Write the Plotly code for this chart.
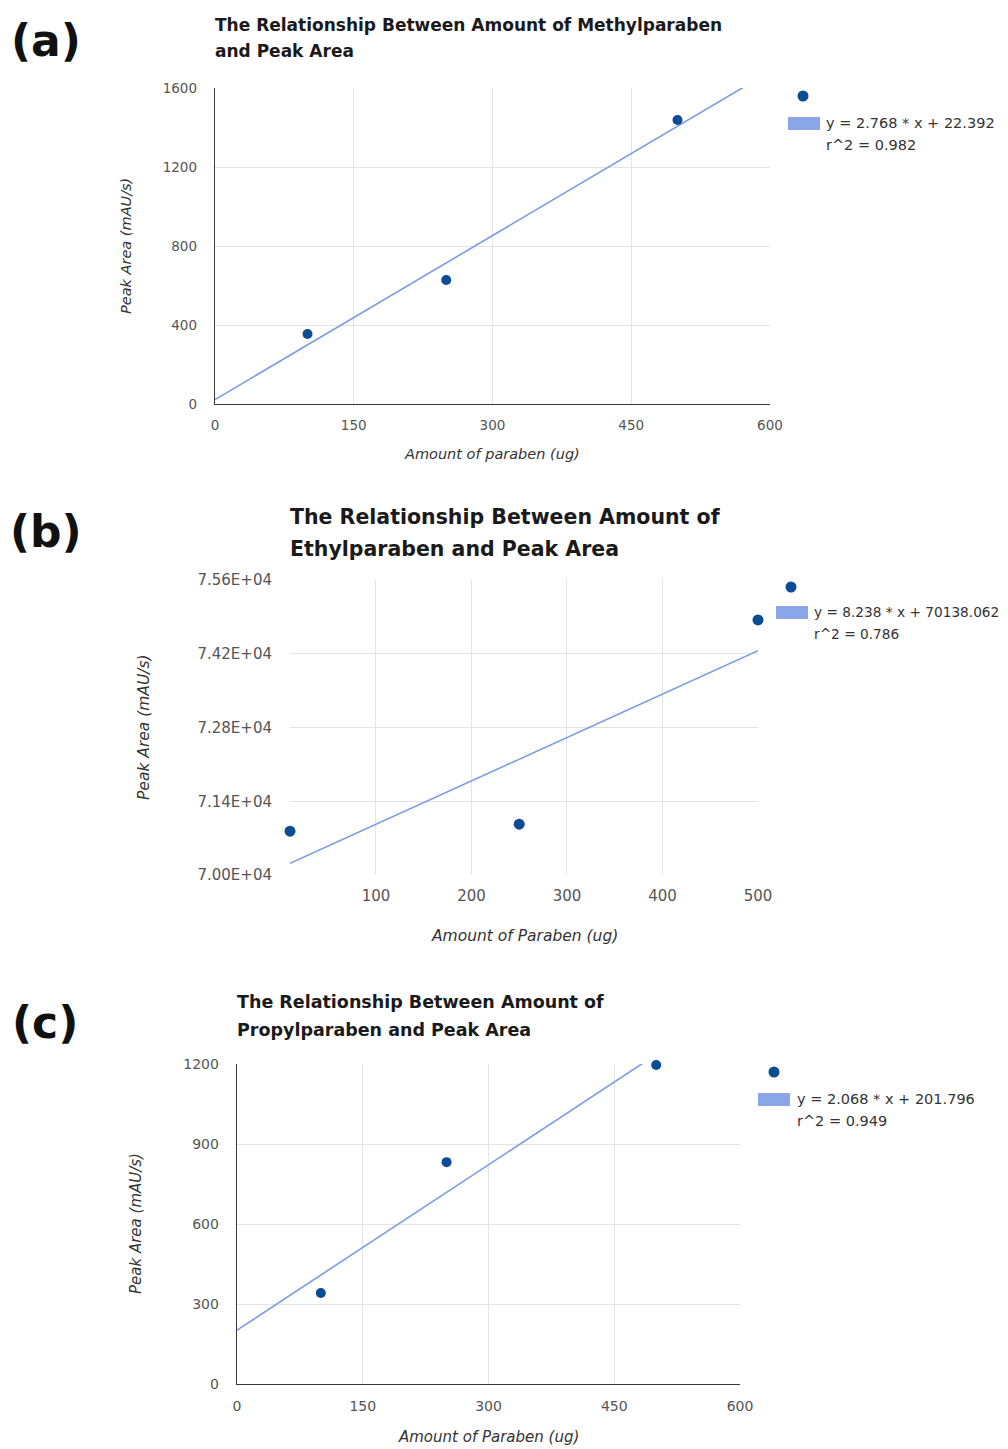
import plotly.graph_objects as go

W, H = 1008, 1449

# ---------------- data ----------------
panel_labels = ["(a)", "(b)", "(c)"]
titles_line1 = ["The Relationship Between Amount of Methylparaben",
                "The Relationship Between Amount of",
                "The Relationship Between Amount of"]
titles_line2 = ["and Peak Area", "Ethylparaben and Peak Area", "Propylparaben and Peak Area"]
x_titles = ["Amount of paraben (ug)", "Amount of Paraben (ug)", "Amount of Paraben (ug)"]
y_title = "Peak Area (mAU/s)"

methyl_x = [100, 250, 500]
methyl_y = [354, 628, 1438]
ethyl_x = [10, 250, 500]
ethyl_y = [70832, 70965, 74843]
propyl_x = [100, 250, 500]
propyl_y = [341, 832, 1196]

slopes = [2.768, 8.238, 2.068]
intercepts = [22.392, 70138.062, 201.796]
r2_values = [0.982, 0.786, 0.949]

x_ranges = [[0, 600], [10, 500], [0, 600]]
y_ranges = [[0, 1600], [70000, 75600], [0, 1200]]
x_tickvals = [[0, 150, 300, 450, 600], [100, 200, 300, 400, 500], [0, 150, 300, 450, 600]]
y_tickvals = [[0, 400, 800, 1200, 1600],
              [70000, 71400, 72800, 74200, 75600],
              [0, 300, 600, 900, 1200]]
y_ticktext_b = ["7.00E+04", "7.14E+04", "7.28E+04", "7.42E+04", "7.56E+04"]

# ---------------- styling / layout ----------------
FONT = "DejaVu Sans"
DOT = "#0b4c95"
LINE = "#7c9be4"
RECT = "#8aa6e8"
GRID = "#e3e3e3"
AXIS = "#3a3a3a"

def px(x):
    return x / W

def py(y):
    return 1 - y / H

# pixel boxes: (left, right, top, bottom)
boxes = [(215, 770, 88, 404), (290, 758, 580, 875), (237, 740, 1064, 1384)]
tick_sizes = [13.5, 15, 14]
ytick_standoff = [14, 17, 14]
xtick_standoff = [8, 10, 9]
axis_title_sizes = [14.5, 15.5, 15]
title_sizes = [17, 20.5, 17.5]
title_pos = [(213, 25, 51), (288, 517, 549), (235, 1002, 1030)]
label_pos = [(46, 40), (46, 531), (45, 1022)]
xtitle_pos = [(492, 454), (524, 936), (488, 1437)]
ytitle_pos = [(126, 246), (144, 727), (136, 1224)]
legend_pos = [(803, 96, 788, 117, 824, 123, 145),
              (791, 587, 776, 606, 812, 612, 634),
              (774, 1072, 758, 1093, 795, 1099, 1121)]
legend_font = [14.5, 13.7, 14.5]
dark_axes = [True, False, True]

fig = go.Figure()
data_x = [methyl_x, ethyl_x, propyl_x]
data_y = [methyl_y, ethyl_y, propyl_y]

annotations = []
shapes = []
layout_axes = {}

for i in range(3):
    sfx = "" if i == 0 else str(i + 1)
    xa, ya = "x" + sfx, "y" + sfx
    # trendline through the axis range
    xr = x_ranges[i]
    tx = [xr[0], xr[1]]
    ty = [slopes[i] * v + intercepts[i] for v in tx]
    fig.add_trace(go.Scatter(x=tx, y=ty, mode="lines", xaxis=xa, yaxis=ya,
                             line=dict(color=LINE, width=1.6), showlegend=False,
                             hoverinfo="skip"))
    fig.add_trace(go.Scatter(x=data_x[i], y=data_y[i], mode="markers", xaxis=xa, yaxis=ya,
                             marker=dict(color=DOT, size=10 if i != 1 else 11),
                             cliponaxis=False, showlegend=False))

    l, r, t, b = boxes[i]
    common = dict(showgrid=True, gridcolor=GRID, gridwidth=1, zeroline=False,
                  ticks="", tickfont=dict(family=FONT, size=tick_sizes[i], color="#555555"),
                  fixedrange=True, automargin=False)
    xaxis = dict(domain=[px(l), px(r)], range=x_ranges[i], tickvals=x_tickvals[i],
                 anchor=ya, ticklabelstandoff=xtick_standoff[i], **common)
    yaxis = dict(domain=[py(b), py(t)], range=y_ranges[i], tickvals=y_tickvals[i],
                 anchor=xa, ticklabelstandoff=ytick_standoff[i], **common)
    if i == 1:
        yaxis["ticktext"] = y_ticktext_b
    if dark_axes[i]:
        xaxis.update(showline=True, linecolor=AXIS, linewidth=1.3)
        yaxis.update(showline=True, linecolor=AXIS, linewidth=1.3)
    layout_axes["xaxis" + sfx] = xaxis
    layout_axes["yaxis" + sfx] = yaxis

    # panel label
    lx, ly = label_pos[i]
    annotations.append(dict(text="<b>%s</b>" % panel_labels[i], x=px(lx), y=py(ly),
                            xref="paper", yref="paper", xanchor="center", yanchor="middle",
                            showarrow=False, font=dict(family=FONT, size=44, color="#111111")))
    # titles
    tx0, ty1, ty2 = title_pos[i]
    for txt, yy in ((titles_line1[i], ty1), (titles_line2[i], ty2)):
        annotations.append(dict(text="<b>%s</b>" % txt, x=px(tx0), y=py(yy),
                                xref="paper", yref="paper", xanchor="left", yanchor="middle",
                                showarrow=False,
                                font=dict(family=FONT, size=title_sizes[i], color="#1a1a1a")))
    # axis titles
    xx, xy = xtitle_pos[i]
    annotations.append(dict(text="<i>%s</i>" % x_titles[i], x=px(xx), y=py(xy),
                            xref="paper", yref="paper", xanchor="center", yanchor="middle",
                            showarrow=False,
                            font=dict(family=FONT, size=axis_title_sizes[i], color="#333333")))
    yx, yy = ytitle_pos[i]
    annotations.append(dict(text="<i>%s</i>" % y_title, x=px(yx), y=py(yy), textangle=-90,
                            xref="paper", yref="paper", xanchor="center", yanchor="middle",
                            showarrow=False,
                            font=dict(family=FONT, size=axis_title_sizes[i], color="#333333")))
    # legend
    dx, dy, rx, ry, ltx, l1, l2 = legend_pos[i]
    shapes.append(dict(type="circle", xref="paper", yref="paper",
                       x0=px(dx - 5.5), x1=px(dx + 5.5), y0=py(dy + 5.5), y1=py(dy - 5.5),
                       fillcolor=DOT, line=dict(width=0)))
    shapes.append(dict(type="rect", xref="paper", yref="paper",
                       x0=px(rx), x1=px(rx + 32), y0=py(ry + 13), y1=py(ry),
                       fillcolor=RECT, line=dict(width=0)))
    eq = "y = %s * x + %s" % (f"{slopes[i]:.3f}", f"{intercepts[i]:.3f}")
    r2 = "r^2 = %s" % f"{r2_values[i]:.3f}"
    for txt, yy in ((eq, l1), (r2, l2)):
        annotations.append(dict(text=txt, x=px(ltx), y=py(yy), xref="paper", yref="paper",
                                xanchor="left", yanchor="middle", showarrow=False,
                                font=dict(family=FONT, size=legend_font[i], color="#333333")))

fig.update_layout(width=W, height=H, margin=dict(l=0, r=0, t=0, b=0, autoexpand=False),
                  paper_bgcolor="white", plot_bgcolor="white",
                  annotations=annotations, shapes=shapes, showlegend=False,
                  font=dict(family=FONT), **layout_axes)

fig.write_html("out.html",
               config={"displayModeBar": False, "staticPlot": True},
               post_script="document.body.style.margin='0';document.body.style.padding='0';"
                           "document.documentElement.style.overflow='hidden';")
